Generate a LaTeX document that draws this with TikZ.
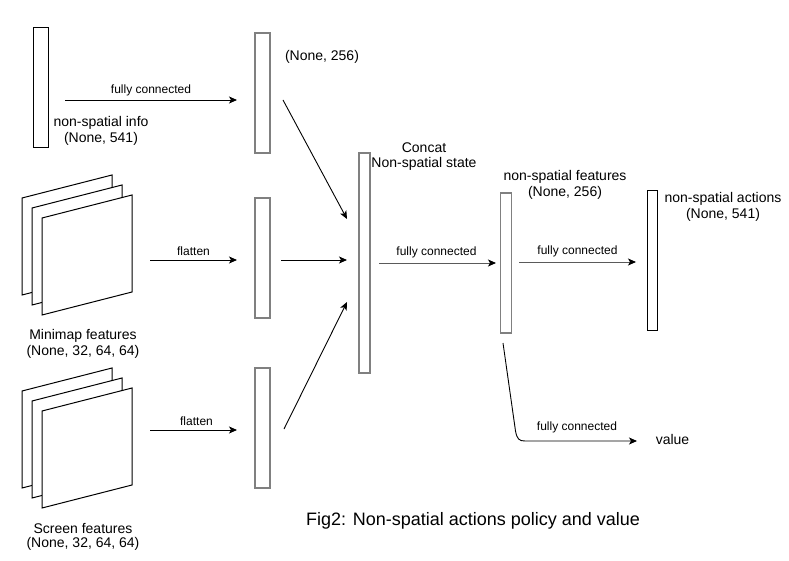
\documentclass[tikz,border=0pt]{standalone}
\usepackage{fontspec}
\setmainfont{Liberation Sans}
\usetikzlibrary{arrows.meta}
\definecolor{bargray}{RGB}{128,128,128}
\definecolor{linegray}{RGB}{90,90,90}
\begin{document}
\begin{tikzpicture}[x=1pt,y=-1pt,
  bar/.style={draw=bargray,line width=1.4pt,fill=white,inner sep=0pt,outer sep=0pt},
  blackbar/.style={draw=black,line width=1pt,fill=white,inner sep=0pt,outer sep=0pt},
  conn/.style={line width=0.9pt,-{Stealth[length=8pt,width=7pt,inset=2pt]}},
  grayconn/.style={line width=0.9pt,draw=linegray,-{Stealth[length=8pt,width=7pt,inset=2pt,color=black]}},
  lbl/.style={font=\fontsize{14}{16}\selectfont,inner sep=0pt,align=center},
  small/.style={font=\fontsize{12}{14}\selectfont,inner sep=0pt},
  sheet/.style={draw=black,line width=1pt,fill=white,line join=miter}]
\useasboundingbox (0,0) rectangle (789,561);
\fill[white] (0,0) rectangle (789,561);

% bars
\node[blackbar,minimum width=15,minimum height=120] (info) at (40.5,88) {};
\node[bar,minimum width=15,minimum height=120] (b1) at (262.5,93) {};
\node[bar,minimum width=15,minimum height=120] (b2) at (262.5,258) {};
\node[bar,minimum width=15,minimum height=120] (b3) at (262.5,428) {};
\node[bar,minimum width=11,minimum height=220] (concat) at (364.5,263) {};
\node[bar,minimum width=10.5,minimum height=140] (feat) at (506,263) {};
\node[blackbar,minimum width=10,minimum height=139] (act) at (652,260.5) {};

% stacks of feature maps
\foreach \dy in {0,193}{
  \foreach \dx in {0,10,20}{
    \draw[sheet] (22+\dx,198+\dy+\dx) -- (112+\dx,175+\dy+\dx) -- (112+\dx,272+\dy+\dx) -- (22+\dx,295+\dy+\dx) -- cycle;
  }
}

% labels
\node[lbl] (tinfo) at (101,123) {non-spatial info};
\node[lbl] (tinfo2) at (101,139) {(None, 541)};
\node[lbl] (tb1) at (322,57) {(None, 256)};
\node[lbl] (tmini) at (83,336) {Minimap features};
\node[lbl] (tmini2) at (83,352) {(None, 32, 64, 64)};
\node[lbl] (tscr) at (83,528) {Screen features};
\node[lbl] (tscr2) at (83,544) {(None, 32, 64, 64)};
\node[lbl] (tcon) at (424,148) {Concat};
\node[lbl] (tcon2) at (424,164) {Non-spatial state};
\node[lbl] (tfeat) at (565,177) {non-spatial features};
\node[lbl] (tfeat2) at (565,193) {(None, 256)};
\node[lbl] (tact) at (723,199) {non-spatial actions};
\node[lbl] (tact2) at (723,215) {(None, 541)};
\node[lbl] (value) at (672.5,439) {value};
\node[font=\fontsize{18}{20}\selectfont,inner sep=0pt] (cap) at (473,521) {Fig2: Non-spatial actions policy and value};

% connector end points
\coordinate (s1) at (65,100);   \coordinate (e1) at (237,100);
\coordinate (s2) at (150,260);  \coordinate (e2) at (237,260);
\coordinate (s3) at (150,430);  \coordinate (e3) at (237,430);
\coordinate (s4) at (283,100);  \coordinate (e4) at (347,219);
\coordinate (s5) at (281,260);  \coordinate (e5) at (347,260);
\coordinate (s6) at (284,429);  \coordinate (e6) at (347,302);
\coordinate (s7) at (379,263);  \coordinate (e7) at (496,263);
\coordinate (s8) at (519,262);  \coordinate (e8) at (636,262);
\coordinate (s9) at (503,343);  \coordinate (e9) at (637,441);

\draw[conn] (s1) -- node[small,above=4pt]{fully connected} (e1);
\draw[conn] (s2) -- node[small,above=4pt]{flatten} (e2);
\draw[conn] (s3) -- node[small,above=4pt,xshift=3pt]{flatten} (e3);
\draw[conn] (s4) -- (e4);
\draw[conn] (s5) -- (e5);
\draw[conn] (s6) -- (e6);
\draw[grayconn] (s7) -- node[small,above=5pt,xshift=-1pt]{fully connected} (e7);
\draw[grayconn] (s8) -- node[small,above=5pt]{fully connected} (e8);
\draw[conn] (s9) -- (515.5,431) .. controls (517,439) and (519,441) .. (525,441) -- node[small,above=8pt,xshift=-4pt]{fully connected} (e9);
\end{tikzpicture}
\end{document}
